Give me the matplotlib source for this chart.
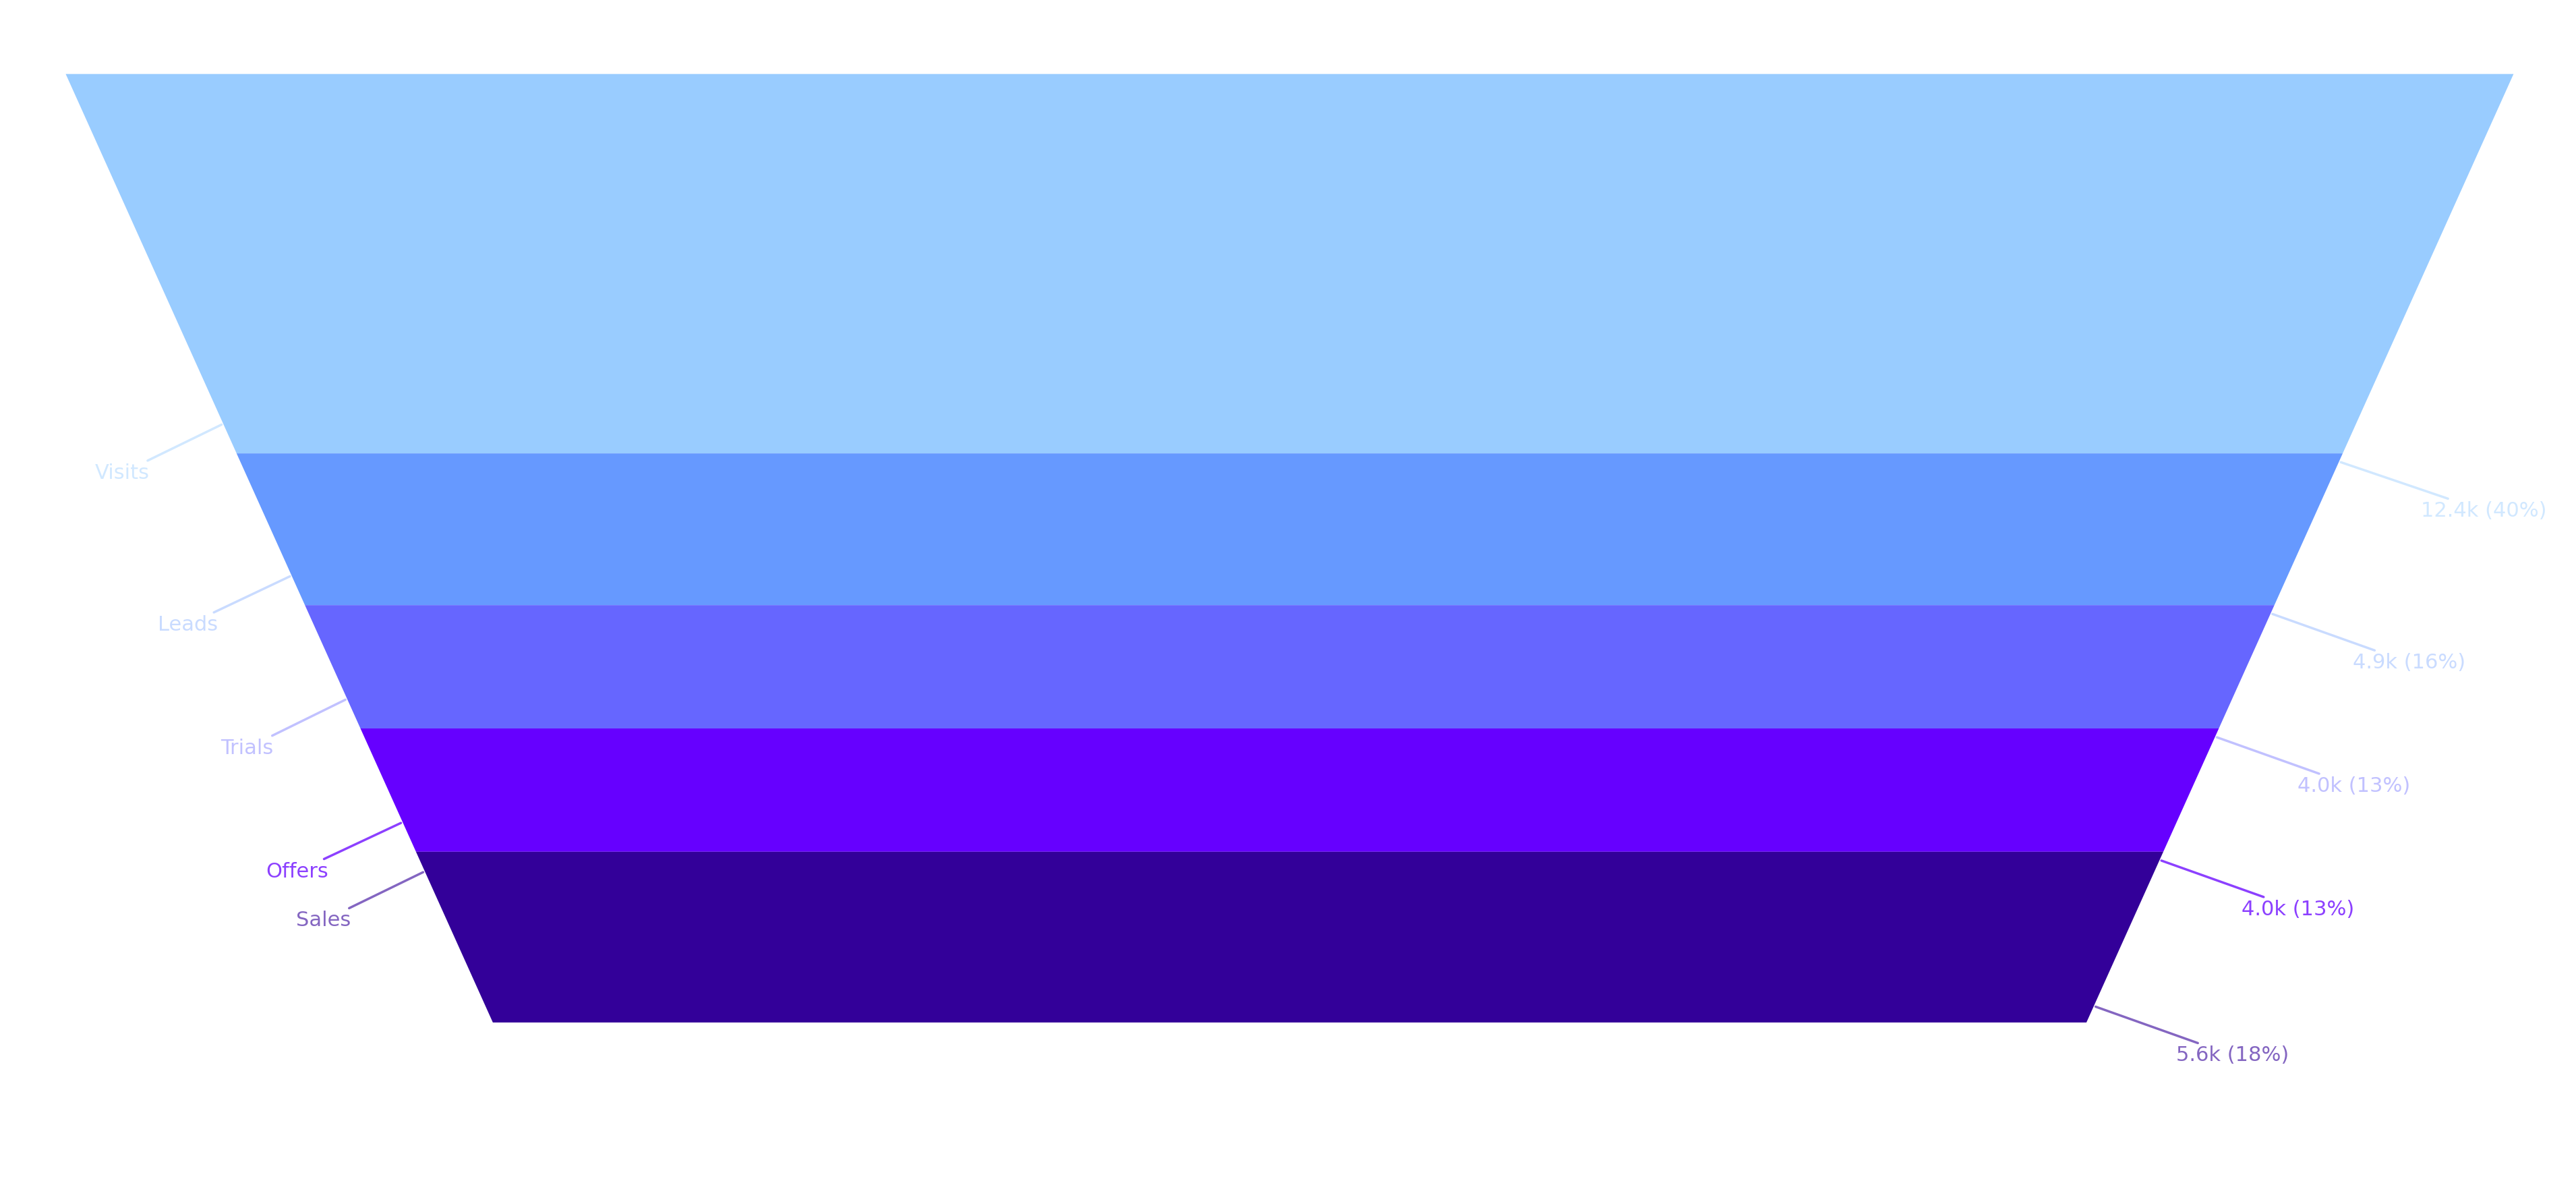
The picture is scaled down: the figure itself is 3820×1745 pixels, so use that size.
import matplotlib
matplotlib.use('Agg')
import matplotlib.pyplot as plt
import numpy as np

# funnel data
stages = ['Visits', 'Leads', 'Trials', 'Offers', 'Sales']
shares = [40, 16, 13, 13, 18]
counts = ['12.4k', '4.9k', '4.0k', '4.0k', '5.6k']
colors = ['#99ccff', '#6699ff', '#6666ff', '#6600ff', '#330099']
text_alpha = [0.45, 0.35, 0.4, 0.75, 0.6]


def half_width(y, top, bottom, w_top, w_bottom):
    t = (y - top) / (bottom - top)
    return w_top + t * (w_bottom - w_top)


def main():
    fig = plt.figure(figsize=(38.2, 17.45), dpi=100)
    ax = fig.add_axes([0, 0, 1, 1])
    ax.set_xlim(0, 1568)
    ax.set_ylim(716, 0)
    ax.axis('off')

    cx = 785
    top, bottom = 45, 622
    w_top, w_bottom = 745, 485

    bounds = top + np.concatenate([[0], np.cumsum(shares)]) / sum(shares) * (bottom - top)

    for i in range(len(stages)):
        y0, y1 = bounds[i], bounds[i + 1]
        h0 = half_width(y0, top, bottom, w_top, w_bottom)
        h1 = half_width(y1, top, bottom, w_top, w_bottom)
        ax.fill([cx - h0, cx + h0, cx + h1, cx - h1], [y0, y0, y1, y1],
                color=colors[i], lw=0)

    # names on the left, counts on the right, leader lines to the edge
    for i in range(len(stages)):
        if i < 4:
            ya = bounds[i + 1] - 18
        else:
            ya = (bounds[i] + bounds[i + 1]) / 2 - 40
        ha_ = half_width(ya, top, bottom, w_top, w_bottom)
        al = text_alpha[i]
        ax.annotate(stages[i], xy=(cx - ha_, ya), xytext=(cx - ha_ - 45, ya + 30),
                    ha='right', va='center', fontsize=22, color=colors[i], alpha=al,
                    arrowprops=dict(arrowstyle='-', color=colors[i], lw=2.5, alpha=al))
        yb = bounds[i + 1] + (5 if i < 4 else -10)
        hb = half_width(yb, top, bottom, w_top, w_bottom)
        ax.annotate('%s (%d%%)' % (counts[i], shares[i]), xy=(cx + hb, yb),
                    xytext=(cx + hb + 50, yb + 30),
                    ha='left', va='center', fontsize=22, color=colors[i], alpha=al,
                    arrowprops=dict(arrowstyle='-', color=colors[i], lw=2.5, alpha=al))

    fig.savefig('out.png', dpi=100)


if __name__ == '__main__':
    main()
